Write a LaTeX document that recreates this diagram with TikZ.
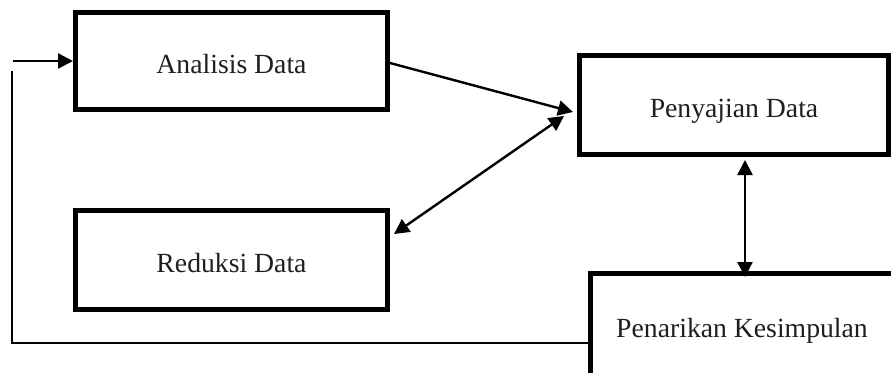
\documentclass[tikz,border=0pt]{standalone}
\usepackage{fontspec}
\setmainfont{Liberation Serif}
\usetikzlibrary{arrows.meta}
\begin{document}
\begin{tikzpicture}[x=1pt,y=-1pt,
  stagebox/.style={draw=black, line width=5pt, fill=white, inner sep=0pt,
    font=\fontsize{27.7}{33}\selectfont, text=black!88,
    text height=24pt, text depth=0pt},
  tip/.style={Triangle[length=15pt,width=15pt]},
  flow/.style={line width=2.4pt, -{Triangle[length=15pt,width=15pt]}},
  twoway/.style={line width=2.4pt, {Triangle[length=15pt,width=15pt]}-{Triangle[length=15pt,width=15pt]}},
  loop/.style={line width=2pt}]
  \useasboundingbox (0,0) rectangle (891,372);
  \clip (0,0) rectangle (891,372);

  % stages of the analysis
  \node[stagebox, minimum width=312pt, minimum height=97pt] (ana) at (231.5,61) {Analisis Data};
  \node[stagebox, minimum width=309pt, minimum height=99pt] (saji) at (734,105) {Penyajian Data};
  \node[stagebox, minimum width=312pt, minimum height=99pt] (red) at (231.5,260) {Reduksi Data};
  \node[stagebox, minimum width=303pt, minimum height=103pt] (tarik) at (742,325) {Penarikan Kesimpulan};

  % entry and feedback loop
  \coordinate (in) at (13,61);
  \coordinate (up) at (12,71);
  \draw[flow] (in) -- (ana.west);
  \draw[loop] (tarik.west |- 0,343) -| (up);

  % connectors between the stages
  \coordinate (sajiIn) at (573,112);
  \coordinate (sajiTw) at (564,116);
  \coordinate (redTw) at (394,234);
  \draw[flow] (ana.east |- 0,63) -- (sajiIn);
  \draw[twoway] (redTw) -- (sajiTw);
  \draw[twoway] (saji.south -| 745,0) ++(0,3) -- (745,277);
\end{tikzpicture}
\end{document}
